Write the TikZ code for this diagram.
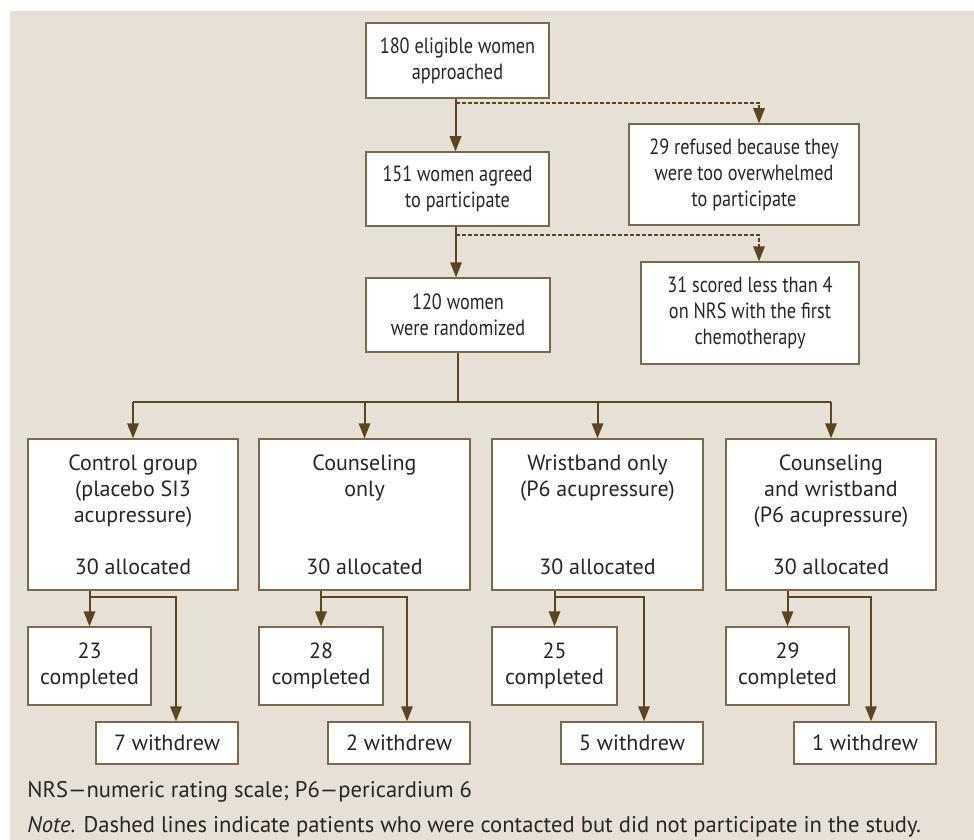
\documentclass[tikz,border=0pt]{standalone}
\usepackage{fontspec}
\setmainfont{PT Sans}
\newfontfamily\condfont{PT Sans}[FakeStretch=0.83]
\usetikzlibrary{calc}
\definecolor{bg}{HTML}{E6E0D6}
\definecolor{edge}{HTML}{7A6A4C}
\definecolor{arr}{HTML}{5B4520}
% arrowhead pointing down whose tip is at #1
\newcommand\tipdown[1]{\fill[arr] ($(#1)+(-6,-15)$) -- ($(#1)+(6,-15)$) -- (#1) -- cycle;}
\begin{document}
\begin{tikzpicture}[x=0.5pt,y=-0.5pt,
  every node/.style={font=\fontsize{11}{13}\selectfont, text=black!85},
  box/.style={draw=edge, line width=0.75pt, fill=white, align=center, inner sep=0pt},
  cbox/.style={box, font=\condfont\fontsize{11}{13}\selectfont},
  conn/.style={draw=arr, line width=1pt},
  dconn/.style={conn, dash pattern=on 2pt off 1pt}]
\useasboundingbox (0,0) rectangle (974,840);
\fill[bg] (10,11) rectangle (974,840);
% top
\node[cbox, minimum width=91.5pt, minimum height=37.5pt] (A) at (457.5,60.5) {180 eligible women\\approached};
\node[cbox, minimum width=91.5pt, minimum height=37pt] (B) at (457.5,189) {151 women agreed\\to participate};
\node[cbox, minimum width=92pt, minimum height=37pt] (C) at (458,315) {120 women\\were randomized};
\node[cbox, minimum width=115pt, minimum height=50.5pt] (R1) at (744,174.5) {29 refused because they\\were too overwhelmed\\to participate};
\node[cbox, minimum width=109pt, minimum height=51pt] (R2) at (750,313) {31 scored less than 4\\on NRS with the first\\chemotherapy};
\coordinate (a1) at ($(B.north)+(-2,0)$);
\coordinate (b1) at ($(C.north)+(-2,0)$);
\coordinate (r1) at ($(R1.north)+(15,0)$);
\coordinate (r2) at ($(R2.north)+(9,0)$);
\draw[conn] (A.south -| a1) -- ($(a1)+(0,-12)$); \tipdown{a1}
\draw[conn] (B.south -| b1) -- ($(b1)+(0,-12)$); \tipdown{b1}
\draw[dconn] ($(A.south -| a1)+(0,4)$) -| ($(r1)+(0,-12)$); \tipdown{r1}
\draw[dconn] ($(B.south -| b1)+(0,8)$) -| ($(r2)+(0,-12)$); \tipdown{r2}
% groups
\node[box, minimum width=105pt, minimum height=75.5pt] (G1) at (133,514.5) {Control group\\(placebo SI3\\acupressure)\\~\\30 allocated};
\node[box, minimum width=105.5pt, minimum height=75.5pt] (G2) at (364.5,514.5) {Counseling\\only\\~\\~\\30 allocated};
\node[box, minimum width=105.5pt, minimum height=75.5pt] (G3) at (597.5,514.5) {Wristband only\\(P6 acupressure)\\~\\~\\30 allocated};
\node[box, minimum width=105pt, minimum height=75.5pt] (G4) at (831,514.5) {Counseling\\and wristband\\(P6 acupressure)\\~\\30 allocated};
\coordinate (split) at ($(C.south)+(0,49)$);
\draw[conn] (C.south) -- (split);
\draw[conn] (split -| G1.north) -- (split -| G4.north);
\foreach \g in {G1,G2,G3,G4}{
  \draw[conn] (split -| \g.north) -- ($(\g.north)+(0,-12)$);
  \tipdown{\g.north}
}
% completed
\node[box, minimum width=61.5pt, minimum height=39pt] (C1) at (89.5,666) {23\\completed};
\node[box, minimum width=62pt, minimum height=39pt] (C2) at (321,666) {28\\completed};
\node[box, minimum width=62.5pt, minimum height=39pt] (C3) at (554.5,666) {25\\completed};
\node[box, minimum width=61.5pt, minimum height=39pt] (C4) at (787.5,666) {29\\completed};
% withdrew
\node[box, minimum width=71pt, minimum height=21pt] (W1) at (167,743) {7 withdrew};
\node[box, minimum width=71pt, minimum height=21pt] (W2) at (399,743) {2 withdrew};
\node[box, minimum width=71pt, minimum height=21pt] (W3) at (632,743) {5 withdrew};
\node[box, minimum width=71pt, minimum height=21pt] (W4) at (865,743) {1 withdrew};
\foreach \g/\c/\w/\o in {G1/C1/W1/9,G2/C2/W2/8,G3/C3/W3/12,G4/C4/W4/6}{
  \coordinate (wt) at ($(\w.north)+(\o,0)$);
  \draw[conn] (\c.north |- \g.south) -- ($(\c.north)+(0,-12)$);
  \tipdown{\c.north}
  \draw[conn] ($(\c.north |- \g.south)+(0,6)$) -| ($(wt)+(0,-12)$);
  \tipdown{wt}
}
% notes
\node[anchor=west, inner sep=0pt, font=\fontsize{11.3}{13}\selectfont] (n1) at (27,792) {NRS—numeric rating scale; P6—pericardium 6};
\node[anchor=west, inner sep=0pt, font=\fontsize{11.3}{13}\selectfont] (n2) at (27,827) {\textit{Note}. Dashed lines indicate patients who were contacted but did not participate in the study.};
\end{tikzpicture}
\end{document}
